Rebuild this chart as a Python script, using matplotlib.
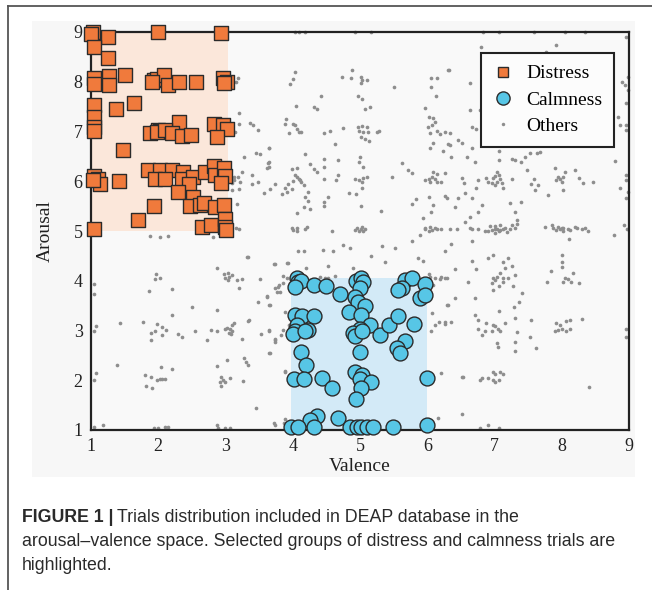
import numpy as np
import matplotlib
matplotlib.use("Agg")
import matplotlib.pyplot as plt
from matplotlib.lines import Line2D
from matplotlib.patches import Rectangle

# (valence, arousal) pairs
distress = [
    (1.03, 9.0), (1.0, 8.95), (1.25, 8.89), (2.0, 9.0), (2.94, 8.98), (1.05, 8.69), (1.25, 8.47),
    (1.05, 8.07), (1.05, 7.96), (1.27, 8.11), (1.27, 7.93), (1.5, 8.13),
    (1.93, 8.04), (1.98, 8.06), (2.09, 8.14), (2.14, 7.93), (1.9, 8.0), (2.31, 8.0), (2.56, 8.0),
    (2.97, 8.07), (3.02, 8.0), (2.98, 7.97),
    (1.05, 7.53), (1.05, 7.3), (1.05, 7.1), (1.05, 7.01), (1.37, 7.45), (1.64, 7.57), (2.31, 7.2),
    (1.88, 6.96), (2.0, 7.03), (2.02, 7.01), (1.98, 7.0), (2.1, 7.03), (2.21, 6.96), (2.35, 6.9), (2.49, 6.92),
    (2.83, 7.15), (2.97, 7.13), (3.02, 7.05), (2.88, 6.88),
    (1.48, 6.62),
    (1.05, 6.11), (1.11, 6.04), (1.13, 5.94), (1.03, 6.03), (1.41, 6.0),
    (1.85, 6.23), (2.03, 6.23), (2.2, 6.23), (2.37, 6.19), (1.95, 6.05), (2.1, 6.05), (2.36, 6.05),
    (2.52, 6.08), (2.45, 5.94),
    (2.7, 6.19), (2.83, 6.31), (2.84, 6.13), (2.98, 6.26), (2.99, 6.1), (2.94, 5.96),
    (2.29, 5.79), (1.94, 5.5), (2.52, 5.68), (2.47, 5.5), (2.62, 5.52), (2.68, 5.56), (2.84, 5.48), (2.98, 5.52),
    (1.7, 5.22), (1.05, 5.05), (2.65, 5.09), (2.79, 5.12), (2.99, 5.25), (2.99, 5.09), (3.0, 5.02),
]

calmness = [
    (4.06, 4.05), (4.08, 3.98), (4.13, 3.99), (4.04, 3.88), (4.32, 3.91), (4.49, 3.89), (4.7, 3.73),
    (4.94, 3.99), (5.02, 4.05), (5.05, 3.97), (5.0, 3.86),
    (4.93, 3.68), (4.97, 3.58), (5.07, 3.5), (4.83, 3.38),
    (5.01, 3.31), (5.15, 3.12), (5.0, 3.04), (4.89, 2.94), (4.93, 2.88), (5.03, 2.98),
    (5.67, 4.02), (5.77, 4.05), (5.62, 3.85), (5.57, 3.81), (5.96, 3.93), (5.89, 3.66), (5.97, 3.71),
    (4.03, 3.32), (4.14, 3.3), (4.32, 3.3), (4.06, 3.12), (4.04, 2.99), (4.23, 3.01), (4.01, 2.92), (4.18, 2.98),
    (5.3, 2.91), (5.43, 3.12), (5.57, 3.3), (5.8, 3.13),
    (5.67, 2.78), (5.55, 2.64), (5.59, 2.54),
    (4.13, 2.56), (4.19, 2.31), (5.0, 2.56),
    (4.02, 2.03), (4.17, 2.03), (4.43, 2.04), (4.58, 1.84),
    (4.93, 2.17), (5.03, 2.11), (5.0, 2.03), (5.16, 1.97), (5.01, 1.84), (4.94, 1.62),
    (5.99, 2.04),
    (4.36, 1.29), (4.26, 1.2), (4.68, 1.24),
    (3.98, 1.07), (4.08, 1.07), (4.32, 1.07),
    (4.85, 1.07), (4.95, 1.07), (5.02, 1.07), (5.1, 1.07), (5.2, 1.07), (5.49, 1.07), (5.99, 1.11),
]

others = [
    # upper left
    (3.19, 8.07), (3.15, 8.0), (3.2, 7.37), (3.2, 7.16), (3.36, 7.18), (3.41, 7.13), (3.48, 7.03), (3.14, 6.98),
    (3.28, 6.49), (3.46, 6.57), (3.51, 6.54), (3.63, 6.36), (3.65, 6.66), (3.61, 6.26),
    (3.24, 6.19), (3.12, 6.09), (3.19, 6.09), (3.13, 6.02), (3.1, 5.96), (3.22, 5.99), (3.39, 6.13),
    (3.49, 5.98), (3.39, 5.94), (3.09, 5.82), (3.2, 5.84), (3.57, 5.77),
    (3.17, 5.54), (3.15, 5.07), (3.2, 5.05),
    # upper middle
    (4.04, 9.0), (4.09, 9.0), (4.18, 9.0), (4.92, 9.0), (5.17, 9.0),
    (4.03, 8.2), (4.0, 8.05), (3.96, 7.95),
    (4.73, 8.1), (4.88, 8.23), (4.87, 8.08), (5.02, 8.1), (5.03, 8.03), (5.02, 7.97), (5.1, 8.03),
    (5.51, 7.89), (6.31, 8.23), (6.06, 8.07), (6.14, 8.08), (6.05, 7.89), (6.13, 7.71),
    (4.42, 7.71), (4.05, 7.51), (4.31, 7.5), (4.36, 7.45), (4.97, 7.71), (5.03, 7.66), (5.07, 7.45),
    (5.15, 7.5), (5.96, 7.48),
    (3.9, 7.25), (3.88, 7.15), (4.01, 7.16), (4.04, 7.13), (4.06, 7.06), (4.09, 6.99), (3.94, 6.96), (4.13, 6.99),
    (4.47, 6.96), (4.56, 7.01), (4.74, 7.07),
    (4.97, 7.09), (5.03, 7.11), (5.1, 7.09), (4.99, 7.01), (5.05, 6.98), (5.12, 6.98), (5.02, 6.89),
    (5.08, 6.84), (5.14, 6.81), (5.25, 6.99), (5.28, 7.01),
    (6.02, 7.3), (6.09, 7.28), (6.12, 7.2), (6.01, 7.1), (6.07, 7.13), (6.14, 7.01), (6.04, 6.96),
    (6.19, 6.94), (6.26, 6.99),
    (6.09, 6.76), (6.04, 6.66), (6.24, 6.61), (6.31, 6.74),
    (3.64, 6.67), (4.63, 6.74), (4.18, 6.54), (3.64, 6.38), (3.64, 6.29),
    (4.46, 6.44), (4.47, 6.29), (4.26, 6.34), (4.31, 6.24), (4.36, 6.19), (4.68, 6.42), (4.68, 6.12), (4.64, 6.02),
    (5.0, 6.49), (4.99, 6.39), (5.04, 6.29),
    (3.99, 6.24), (4.06, 6.27), (4.03, 6.12), (4.06, 6.09), (4.09, 6.04), (4.01, 6.0), (4.13, 5.99),
    (3.93, 5.95), (3.89, 5.87), (3.84, 5.75), (3.91, 5.79), (3.99, 5.85), (4.17, 5.93), (4.11, 6.02),
    (3.73, 5.95), (3.66, 5.85),
    (4.47, 6.05), (4.46, 5.58), (4.53, 5.68), (4.47, 5.5),
    (4.23, 5.79), (4.18, 5.69), (4.23, 5.6), (4.17, 5.49), (4.26, 5.45), (4.07, 5.36),
    (4.93, 6.04), (4.99, 6.02), (5.05, 6.06), (5.1, 6.09), (5.03, 5.99), (5.03, 5.87), (4.84, 5.76),
    (4.94, 5.74), (5.02, 5.5), (5.31, 5.4), (5.47, 6.09),
    (5.63, 6.37), (5.71, 6.22), (5.78, 6.16),
    (5.97, 6.02), (6.02, 6.05), (6.07, 6.09), (6.11, 6.04), (6.15, 5.99), (6.21, 5.99), (6.04, 5.99),
    (6.09, 6.19), (6.14, 6.14), (6.26, 6.16),
    (6.26, 5.71), (6.29, 5.67), (6.02, 5.69), (6.09, 5.52), (6.06, 5.39), (5.94, 5.27), (5.83, 5.64), (5.77, 5.55),
    (3.99, 5.06), (4.06, 5.07), (4.21, 5.08), (4.95, 5.06), (5.03, 5.08), (5.08, 5.05), (5.97, 5.06),
    (6.04, 5.08), (6.11, 5.06),
    # upper right
    (6.83, 9.0), (7.06, 9.0), (7.58, 9.0), (8.05, 9.0), (8.35, 9.0),
    (6.8, 8.69), (7.92, 8.74), (7.76, 8.6), (6.32, 8.24), (6.64, 7.97), (6.78, 7.43), (6.63, 7.43),
    (6.34, 6.96), (6.46, 6.83), (6.34, 6.73), (6.51, 6.76), (6.81, 6.94),
    (6.66, 7.1), (6.73, 7.06), (6.66, 6.66), (8.95, 8.9),
    (8.98, 8.1), (8.94, 7.93), (8.9, 8.0), (8.98, 7.83), (8.96, 7.57), (8.84, 7.3), (8.96, 7.14),
    (8.96, 7.03), (8.87, 7.13),
    (7.06, 6.61), (7.26, 6.45), (7.31, 6.43), (7.39, 6.39), (7.45, 6.49), (7.53, 6.56), (7.63, 6.56),
    (7.68, 6.59), (7.06, 6.43),
    (6.71, 6.39), (6.36, 6.49), (6.59, 6.49),
    (7.03, 6.19), (7.01, 6.11), (7.06, 6.13), (6.98, 6.06), (7.08, 6.04), (7.03, 5.99), (6.96, 5.96),
    (7.11, 5.96), (6.88, 6.06), (6.91, 5.99), (7.01, 5.92),
    (6.76, 6.03), (6.73, 5.86), (6.66, 5.66), (6.56, 5.76), (6.51, 6.06), (6.54, 5.96), (6.45, 5.66), (6.41, 5.49),
    (7.13, 5.87), (7.23, 5.56), (7.26, 6.05),
    (7.49, 6.23), (7.58, 6.05), (7.55, 5.94), (7.6, 5.82), (7.65, 5.92),
    (7.95, 6.09), (7.97, 6.04), (8.02, 6.09), (7.92, 6.02), (8.0, 5.99), (7.9, 6.26), (8.05, 6.19),
    (7.8, 5.72), (8.02, 5.82),
    (8.2, 6.23), (8.25, 6.06), (8.47, 5.99), (8.32, 5.96),
    (8.79, 6.41), (8.87, 5.86), (8.96, 6.13), (8.96, 6.03), (8.96, 5.66), (8.98, 5.79),
    (7.4, 5.59), (7.31, 5.39), (7.33, 5.22), (6.81, 5.52), (6.76, 5.39), (6.64, 5.29), (6.56, 5.19),
    (6.93, 5.1), (7.01, 5.1), (7.08, 5.12), (7.16, 5.07), (7.26, 5.12), (7.33, 5.15), (7.85, 5.12),
    (7.95, 5.09), (8.02, 5.07), (8.1, 5.05), (8.2, 5.09), (8.35, 5.07), (6.34, 5.05), (6.64, 5.06), (8.92, 5.12),
    # lower left
    (1.88, 4.89), (2.03, 4.87), (2.15, 4.9), (2.82, 4.87),
    (3.32, 4.47), (2.88, 4.26),
    (2.98, 4.13), (3.04, 4.15), (3.09, 4.12), (2.99, 4.05), (3.04, 4.02), (3.05, 4.08), (3.17, 4.02),
    (3.24, 4.04), (3.2, 3.85), (3.51, 4.03),
    (1.97, 4.13), (1.95, 4.03), (2.03, 4.06), (1.86, 3.8), (2.21, 3.84), (1.04, 3.94), (1.04, 3.73),
    (2.21, 3.31), (2.5, 3.48), (2.87, 3.41), (3.61, 3.7), (3.48, 3.57), (3.64, 3.51),
    (1.08, 3.1), (1.04, 2.99), (1.43, 3.16), (1.78, 3.18),
    (1.98, 3.14), (2.06, 3.08), (2.11, 3.02), (2.06, 2.91), (1.89, 2.94), (1.89, 2.81), (1.95, 2.99),
    (2.3, 2.92), (2.35, 2.86), (2.55, 2.99), (2.73, 2.81), (2.79, 3.02), (2.88, 2.98),
    (3.02, 3.06), (3.07, 3.03), (3.05, 2.94), (3.09, 2.98), (3.12, 3.16), (3.1, 3.11), (2.99, 3.04), (3.08, 2.92),
    (3.34, 3.2), (3.24, 2.82), (3.53, 2.92), (3.64, 2.98), (3.65, 2.54),
    (1.39, 2.31), (1.08, 2.14), (1.04, 2.0),
    (1.8, 2.11), (1.89, 2.07), (1.82, 1.88), (1.9, 1.84), (1.98, 2.0), (2.03, 2.02), (2.06, 2.02),
    (2.1, 2.02), (2.04, 2.27), (2.2, 2.22),
    (2.87, 2.29), (3.02, 2.41), (3.28, 2.45), (3.31, 2.37), (3.34, 2.31),
    (2.94, 2.07), (2.97, 2.0), (3.07, 2.05), (2.99, 1.97), (2.94, 1.89), (2.92, 1.97), (3.26, 1.99),
    (3.46, 1.45),
    (1.04, 1.07), (1.18, 1.1), (1.93, 1.05), (2.0, 1.05), (2.1, 1.07), (2.15, 1.07), (2.88, 1.1),
    (2.89, 1.05), (2.99, 1.05), (3.07, 1.05),
    (3.33, 4.48), (3.72, 4.34), (3.92, 4.36), (3.77, 3.77), (3.78, 3.87), (3.86, 3.95), (3.62, 3.67),
    (3.88, 3.37), (3.35, 3.21), (3.64, 3.01), (3.74, 2.77), (3.74, 2.83), (3.83, 2.9), (3.88, 2.17),
    (3.72, 1.14), (3.87, 1.14),
    # lower middle
    (4.01, 5.02), (4.06, 4.99), (4.18, 5.05), (4.93, 5.02), (4.98, 5.0), (5.05, 4.99), (5.02, 5.05),
    (5.97, 5.04), (6.02, 5.0), (6.07, 5.02), (6.14, 5.04),
    (4.58, 4.99), (4.75, 4.72), (4.85, 4.65), (5.32, 4.69), (5.52, 4.65), (5.77, 4.8), (6.26, 4.6),
    (6.21, 5.04), (5.89, 4.92),
    (4.08, 4.6), (4.17, 4.59), (4.45, 4.62), (4.6, 4.6), (5.17, 4.5), (5.37, 4.38), (5.86, 4.46), (5.94, 4.4),
    (3.73, 4.33), (3.93, 4.35), (4.19, 4.26), (4.53, 4.3), (4.63, 4.1), (4.9, 4.25),
    (3.86, 4.1), (3.91, 4.05), (4.4, 4.08), (4.48, 4.06), (4.53, 4.06),
    (3.79, 3.91), (3.74, 3.85), (3.66, 3.51), (3.81, 3.78),
    (6.02, 4.13), (6.12, 4.05), (6.19, 4.03), (6.29, 4.06), (6.09, 3.91), (6.04, 4.08), (6.21, 4.07),
    (6.07, 3.35), (6.12, 3.11), (6.18, 3.18), (6.26, 3.14), (6.29, 3.51), (6.06, 2.99),
    (3.74, 2.81), (3.86, 3.01), (3.94, 3.12), (3.66, 2.54), (3.89, 2.19),
    (6.2, 2.14), (6.16, 1.24), (3.74, 1.1), (3.89, 1.23),
    # lower right
    (6.96, 5.02), (7.0, 5.05), (7.03, 5.04), (7.06, 4.99), (7.08, 5.02), (7.01, 4.95), (6.91, 4.99),
    (6.86, 5.0), (7.13, 5.05), (7.18, 4.97), (7.23, 5.04), (7.3, 5.07), (6.66, 5.04), (6.76, 5.05), (6.44, 5.04),
    (7.75, 5.09), (7.87, 5.07), (7.92, 5.02), (7.97, 5.04), (8.02, 4.99), (8.0, 5.07), (8.12, 5.02),
    (8.22, 5.07), (8.3, 5.04), (8.39, 5.0),
    (8.97, 5.04), (8.78, 4.92), (8.11, 4.84), (6.66, 4.79), (6.36, 4.73),
    (6.9, 4.46), (6.98, 4.52), (6.67, 4.4), (7.13, 4.37), (7.2, 4.46), (7.16, 4.26), (7.26, 4.3),
    (6.73, 4.24), (6.41, 4.24),
    (6.98, 4.06), (7.03, 4.08), (7.08, 4.15), (7.01, 4.01), (7.13, 4.06), (7.2, 4.05), (7.31, 4.12),
    (6.96, 3.95), (7.06, 3.9), (7.13, 3.97), (6.98, 3.82), (7.28, 3.9), (6.61, 3.97), (6.26, 4.06),
    (7.41, 3.75), (7.36, 3.57), (7.29, 3.48), (6.71, 3.66), (6.31, 3.51), (6.41, 3.65),
    (8.01, 4.52), (8.01, 4.38), (8.01, 4.28), (8.17, 4.15), (7.84, 4.2), (7.78, 3.97), (8.05, 4.06),
    (8.1, 4.03), (8.02, 3.98), (8.14, 3.97), (8.25, 3.95),
    (7.07, 3.39), (6.71, 3.32), (6.76, 3.21), (6.88, 3.16), (6.98, 3.12), (7.01, 3.1), (7.05, 3.04),
    (7.08, 2.98), (6.96, 2.99), (6.86, 2.99), (6.81, 2.91), (6.75, 3.04), (7.16, 3.16), (7.31, 3.26),
    (7.34, 2.96), (7.54, 3.22),
    (6.26, 3.18), (6.35, 3.18),
    (7.03, 2.74), (7.05, 2.66), (7.31, 2.77), (7.31, 2.59), (7.53, 2.86), (7.61, 2.64),
    (7.92, 3.16), (7.9, 2.99), (7.95, 3.01), (8.0, 3.04), (8.07, 2.99), (8.12, 3.03), (8.06, 3.19),
    (8.12, 3.21), (8.3, 3.23), (7.97, 3.11),
    (8.96, 3.04), (8.96, 2.86),
    (6.98, 2.17), (7.0, 2.12), (7.08, 2.17), (7.12, 2.12), (7.06, 2.0), (6.98, 2.0), (7.0, 1.96),
    (6.9, 2.05), (6.81, 2.05), (6.78, 2.0), (6.52, 2.07), (6.53, 2.07),
    (8.4, 1.86), (6.52, 1.33), (6.78, 1.05), (6.9, 1.1), (7.07, 1.05),
]

# highlighted regions: (valence lo, valence hi, arousal lo, arousal hi)
distress_box = (1, 3.03, 5, 9)
calm_box = (3.98, 6.0, 1, 4.05)

ticks = [1, 2, 3, 4, 5, 6, 7, 8, 9]

caption_bold = "FIGURE 1 |"
caption_lines = ["Trials distribution included in DEAP database in the",
                 "arousal\u2013valence space. Selected groups of distress and calmness trials are",
                 "highlighted."]

serif = ['Liberation Serif', 'DejaVu Serif']
sans = ['Liberation Sans', 'DejaVu Sans']

orange = '#f07a3c'
cyan = '#57c6e6'
grey = '#8e8e8e'
edge = '#2b2b2b'

W, H = 652, 590
fig = plt.figure(figsize=(W / 100, H / 100), dpi=100, facecolor='white')

# light grey panel behind the plot
fig.patches.append(Rectangle((32 / W, 1 - 477 / H), 603 / W, 456 / H, transform=fig.transFigure,
                             facecolor='#f7f7f7', edgecolor='none', zorder=-5))
# frame lines (top and left)
fig.lines.append(Line2D([8 / W, 1], [1 - 6 / H, 1 - 6 / H], transform=fig.transFigure, color='#555555', lw=1.3))
fig.lines.append(Line2D([8 / W, 8 / W], [0, 1 - 6 / H], transform=fig.transFigure, color='#555555', lw=1.3))

ax = fig.add_axes([91 / W, 1 - 430 / H, 538 / W, 398 / H])
ax.set_zorder(1)
ax.set_facecolor('#f9f9f9')
ax.set_xlim(1, 9)
ax.set_ylim(1, 9)

ax.add_patch(Rectangle((distress_box[0], distress_box[2]), distress_box[1] - distress_box[0],
                       distress_box[3] - distress_box[2], facecolor='#fbe7da', edgecolor='none', zorder=0.5))
ax.add_patch(Rectangle((calm_box[0], calm_box[2]), calm_box[1] - calm_box[0],
                       calm_box[3] - calm_box[2], facecolor='#d3eaf7', edgecolor='none', zorder=0.5))

o = np.array(others)
d = np.array(distress)
c = np.array(calmness)
ax.scatter(o[:, 0], o[:, 1], s=7, color=grey, linewidths=0, zorder=2, clip_on=False)
ax.scatter(d[:, 0], d[:, 1], s=100, marker='s', facecolor=orange, edgecolor=edge, linewidths=1.0,
           zorder=3, clip_on=False)
ax.scatter(c[:, 0], c[:, 1], s=115, marker='o', facecolor=cyan, edgecolor=edge, linewidths=1.0,
           zorder=3, clip_on=False)

for sp in ax.spines.values():
    sp.set_color('#222222')
    sp.set_linewidth(1.6)
    sp.set_zorder(2.5)

ax.set_xticks(ticks)
ax.set_yticks(ticks)
ax.set_xticklabels([str(t) for t in ticks], family=serif, fontsize=13)
ax.set_yticklabels([str(t) for t in ticks], family=serif, fontsize=13)
ax.tick_params(length=0, pad=6, colors='#222222')
ax.set_xlabel('Valence', family=serif, fontsize=14, labelpad=2, color='#222222')
ax.set_ylabel('Arousal', family=serif, fontsize=14, labelpad=14, color='#222222')

handles = [Line2D([], [], ls='none', marker='s', ms=7.5, mfc=orange, mec=edge, mew=1.0),
           Line2D([], [], ls='none', marker='o', ms=9.5, mfc=cyan, mec=edge, mew=1.0),
           Line2D([], [], ls='none', marker='o', ms=2.5, mfc=grey, mec='none')]
leg = ax.legend(handles, ['Distress', 'Calmness', 'Others'], loc='upper right',
                bbox_to_anchor=(0.972, 0.947), borderaxespad=0, fancybox=False, framealpha=1,
                edgecolor='#222222', facecolor='#fcfcfc', prop={'family': serif, 'size': 14},
                handlelength=1.0, handletextpad=0.7, labelspacing=0.45, borderpad=0.6)
leg.get_frame().set_linewidth(1.5)
leg.set_zorder(5)

# caption
ys = [1 - 518 / H, 1 - 541 / H, 1 - 565 / H]
tb = fig.text(22 / W, ys[0], caption_bold, family=sans, weight='bold', fontsize=12.8, va='center',
              color='#2a2a2a')
fig.canvas.draw()
bb = tb.get_window_extent()
fig.text((bb.x1 + 4) / W, ys[0], caption_lines[0], family=sans, fontsize=12.8, va='center', color='#2a2a2a')
fig.text(22 / W, ys[1], caption_lines[1], family=sans, fontsize=12.8, va='center', color='#2a2a2a')
fig.text(22 / W, ys[2], caption_lines[2], family=sans, fontsize=12.8, va='center', color='#2a2a2a')

fig.savefig('out.png', dpi=100, facecolor='white')
